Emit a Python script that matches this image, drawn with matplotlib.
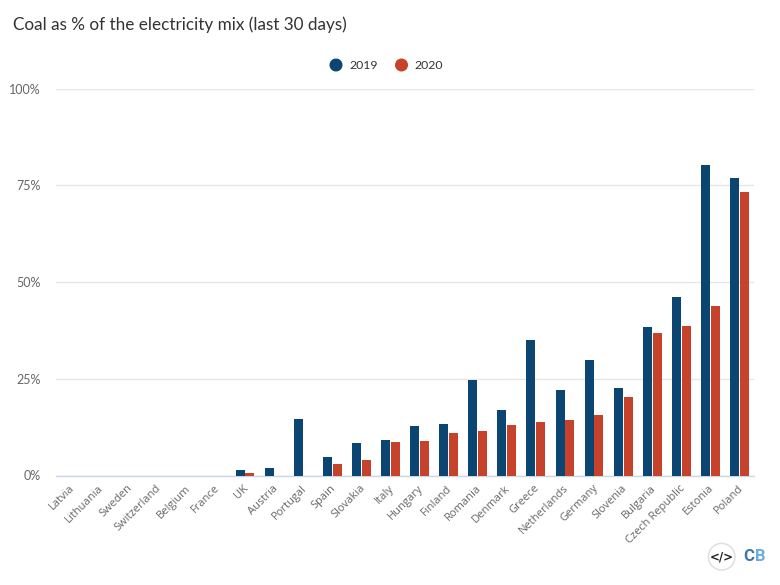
import numpy as np
import matplotlib.pyplot as plt
from matplotlib.patches import Circle
from matplotlib.transforms import ScaledTranslation

#DATA
countries = ["Latvia", "Lithuania", "Sweden", "Switzerland", "Belgium", "France", "UK", "Austria",
             "Portugal", "Spain", "Slovakia", "Italy", "Hungary", "Finland", "Romania", "Denmark",
             "Greece", "Netherlands", "Germany", "Slovenia", "Bulgaria", "Czech Republic", "Estonia", "Poland"]
coal_2019 = [0, 0, 0, 0, 0, 0, 1.3, 1.9, 14.5, 4.9, 8.4, 9.1, 12.7, 13.2, 24.8, 17.0,
             35.0, 22.0, 29.9, 22.6, 38.4, 46.0, 80.2, 77.0]
coal_2020 = [0, 0, 0, 0, 0, 0, 0.6, 0, 0, 3.1, 3.9, 8.6, 8.9, 11.0, 11.5, 13.0,
             13.8, 14.3, 15.7, 20.3, 36.7, 38.7, 43.8, 73.3]
yticks = [0, 25, 50, 75, 100]
ylabels = ["0%", "25%", "50%", "75%", "100%"]

BLUE = "#0b4572"
RED = "#c7422a"
W, H = 780, 585

plt.rcParams["font.family"] = ["Lato", "DejaVu Sans"]

fig = plt.figure(figsize=(W/100, H/100), dpi=100)
ax = fig.add_axes([56/W, 1-475.5/H, (754-56)/W, (475.5-88.5)/H])

#BARS
x = np.arange(len(countries))
ax.bar(x-0.17, coal_2019, 0.31, color=BLUE, zorder=3)
ax.bar(x+0.17, coal_2020, 0.31, color=RED, zorder=3)

ax.set_xlim(-0.5, len(countries)-0.5)
ax.set_ylim(0, 100)

#AXES
ax.set_yticks(yticks)
ax.set_yticklabels(ylabels, fontsize=9, color="#666666")
ax.set_xticks(x)
ax.set_xticklabels(countries, fontsize=8, color="#666666", rotation=45, ha="right", va="center",
                   rotation_mode="anchor", family=["Open Sans", "DejaVu Sans"])
ax.tick_params(axis="both", length=0)
ax.tick_params(axis="x", pad=8)
ax.tick_params(axis="y", pad=11)
ax.grid(axis="y", color="#e6e6e6", linewidth=1, zorder=0)
ax.set_axisbelow(True)
for s in ["top", "left", "right"]:
    ax.spines[s].set_visible(False)
ax.spines["bottom"].set_color("#ccd6eb")
ax.spines["bottom"].set_linewidth(1)

#nudge labels 2px right
nudge = ScaledTranslation(2/100, 0, fig.dpi_scale_trans)
for lab in ax.get_xticklabels():
    lab.set_transform(lab.get_transform() + nudge)

#TITLE
fig.text(13/W, 1-25/H, "Coal as % of the electricity mix (last 30 days)", fontsize=12.3,
         color="#333333", va="center", ha="left")

#LEGEND
over = fig.add_axes([0, 0, 1, 1])
over.set_xlim(0, W)
over.set_ylim(H, 0)
over.axis("off")
over.patch.set_alpha(0)
over.add_patch(Circle((336, 65), 5.8, color=BLUE))
over.add_patch(Circle((401.5, 65), 5.8, color=RED))
over.text(349, 65.5, "2019", fontsize=8.8, color="#333333", va="center")
over.text(414.5, 65.5, "2020", fontsize=8.8, color="#333333", va="center")

#LOGO
over.add_patch(Circle((721.7, 556.7), 13.3, facecolor="white", edgecolor="#dddddd", linewidth=1))
over.text(721.7, 556.5, "</>", fontsize=8.5, fontweight="bold", color="#222222", ha="center", va="center",
          family="DejaVu Sans")
over.text(743, 556.5, "C", fontsize=12, fontweight="bold", color="#3f76a6", ha="left", va="center",
          family="Roboto")
over.text(754.5, 556.5, "B", fontsize=12, fontweight="bold", color="#6aaee0", ha="left", va="center",
          family="Roboto")

fig.savefig("out.png", dpi=100)
